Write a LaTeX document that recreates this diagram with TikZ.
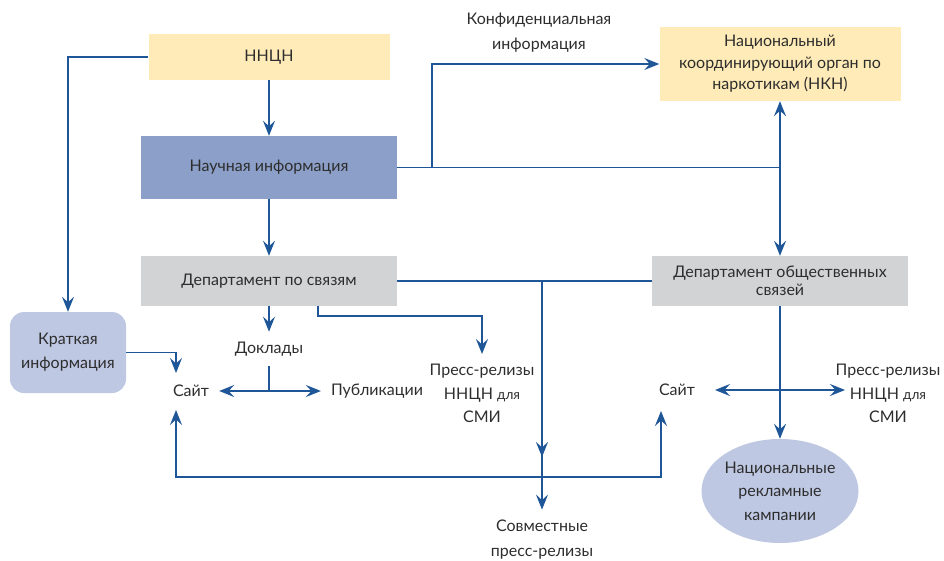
\documentclass[tikz,border=0pt]{standalone}
\usepackage{fontspec}
\setmainfont{Lato}
\usetikzlibrary{arrows.meta,shapes.geometric}

\definecolor{lineblue}{RGB}{31,86,152}
\definecolor{boxyellow}{RGB}{255,235,183}
\definecolor{boxblue}{RGB}{139,159,200}
\definecolor{boxgray}{RGB}{210,211,213}
\definecolor{boxlilac}{RGB}{191,200,227}
\definecolor{txtgray}{RGB}{45,45,45}

\tikzset{
  box/.style={inner sep=0pt,align=center,text=txtgray,font=\fontsize{16}{23}\selectfont},
  lbl/.style={inner sep=10pt,align=center,text=txtgray,font=\fontsize{16}{23.5}\selectfont},
  tip/.tip={Stealth[length=15pt,width=12pt,inset=5.5pt]},
  wire/.style={draw=lineblue,line width=1.4pt},
  link/.style={wire,-tip},
  dlink/.style={wire,tip-tip},
}

\begin{document}
\begin{tikzpicture}[x=1pt,y=-1pt]
            \useasboundingbox (0,0) rectangle (944,561);
            %boxes
            \node[box,fill=boxyellow,minimum width=241pt,minimum height=46pt] (nncn) at (269,57) {ННЦН};
            \node[box,fill=boxblue,minimum width=256pt,minimum height=63pt] (sci) at (269,167.5) {Научная информация};
            \node[box,fill=boxgray,minimum width=256pt,minimum height=50pt] (dps) at (269,281) {Департамент по связям};
            \node[box,fill=boxyellow,minimum width=241pt,minimum height=74pt,font=\fontsize{16}{21.5}\selectfont] (nkn) at (780,64) {Национальный\\координирующий орган по\\наркотикам (НКН)};
            \node[box,fill=boxgray,minimum width=256pt,minimum height=50pt,font=\fontsize{16}{18}\selectfont] (dos) at (780,281) {Департамент общественных\\связей};
            \node[box,fill=boxlilac,rounded corners=14pt,minimum width=116pt,minimum height=81pt,font=\fontsize{16}{24}\selectfont] (kr) at (68,352.5) {Краткая\\информация};
            \node[box,ellipse,fill=boxlilac,minimum width=157pt,minimum height=104pt,font=\fontsize{16}{23.5}\selectfont] (ads) at (780,491) {Национальные\\рекламные\\кампании};
            %texts
            \node[lbl,font=\fontsize{16}{25}\selectfont] (conf) at (539,33) {Конфиденциальная\\информация};
            \node[lbl] (dokl) at (269,349) {Доклады};
            \node[lbl] (site1) at (191,391) {Сайт};
            \node[lbl] (publ) at (377,391) {Публикации};
            \node[lbl] (press1) at (482,393.5) {Пресс-релизы\\ННЦН {\fontsize{13.5}{13.5}\selectfont для}\\СМИ};
            \node[lbl] (site2) at (677,390) {Сайт};
            \node[lbl] (press2) at (888,393.5) {Пресс-релизы\\ННЦН {\fontsize{13.5}{13.5}\selectfont для}\\СМИ};
            \node[lbl,font=\fontsize{16}{25}\selectfont] (joint) at (542,539.5) {Совместные\\пресс-релизы};
            %junctions
            \coordinate (cbr) at (432,167.5);
            \coordinate (split) at (542,281);
            \coordinate (fork) at (269,391);
            \coordinate (pbend) at (318,316);
            \coordinate (s1top) at (176,373);
            \coordinate (s1bot) at (176,410);
            \coordinate (loopL) at (176,477);
            \coordinate (loopR) at (661,477);
            \coordinate (s2bot) at (661,411);
            \coordinate (hL) at (715,390);
            \coordinate (hR) at (845,390);
            %arrows
            \draw[link] (nncn) -- (sci);
            \draw[link] (sci) -- (dps);
            \draw[link] (nncn.west) -| (kr.north);
            \draw[wire] (sci.east) -- (sci.east -| nkn.south);
            \draw[link] (cbr) |- (nkn.west);
            \draw[dlink] (nkn) -- (dos);
            \draw[wire] (dps) -- (dos);
            \draw[link] (split) -- (542,457);
            \draw[link] (split) -- (joint.north);
            \draw[link] (dps) -- (dokl);
            \draw[wire] (dokl.south) -- (fork);
            \draw[link] (fork) -- (site1);
            \draw[link] (fork) -- (publ);
            \draw[link] (dps.south -| pbend) -- (pbend) -| (press1.north);
            \draw[link] (kr.east) -| (s1top);
            \draw[dlink] (s1bot) -- (loopL) -- (loopR) -- (s2bot);
            \draw[link] (dos) -- (ads);
            \draw[dlink] (hL) -- (hR);
        \end{tikzpicture}
\end{document}
